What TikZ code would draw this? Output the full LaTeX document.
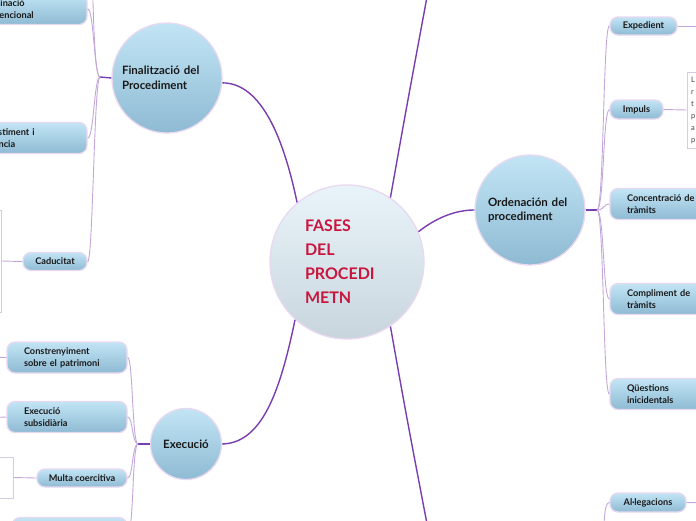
\documentclass[tikz,border=0pt]{standalone}
\usepackage{fontspec}
\setmainfont{Lato}
\definecolor{mainline}{HTML}{7A3DB0}
\definecolor{subline}{HTML}{C3A6DA}
\definecolor{boxtop}{HTML}{C2E5F5}
\definecolor{boxbot}{HTML}{8EBAD3}
\definecolor{boxedge}{HTML}{E8D8F0}
\definecolor{roottop}{HTML}{E9F4FA}
\definecolor{rootbot}{HTML}{C9D5DD}
\definecolor{roottext}{HTML}{C8163E}
\definecolor{notedge}{HTML}{D6CCE0}
\tikzset{
  mainl/.style={draw=mainline, line width=1.4pt},
  subl/.style={draw=subline, line width=0.9pt},
  rootc/.style={circle, draw=boxedge, line width=1.3pt, top color=roottop, bottom color=rootbot, inner sep=0pt,
    text=roottext, font=\fontsize{16}{24}\selectfont\bfseries, align=left},
  topic/.style={circle, draw=boxedge, line width=1.3pt, top color=boxtop, bottom color=boxbot, inner sep=0pt,
    text=black!90, font=\fontsize{11.5}{14.5}\selectfont\bfseries, align=left},
  leaf/.style={rectangle, rounded corners=8pt, draw=boxedge, line width=1.3pt, top color=boxtop, bottom color=boxbot,
    text=black!90, font=\fontsize{9.2}{12}\selectfont\bfseries, inner ysep=0pt},
  leafl/.style={leaf, align=left, inner xsep=17pt, minimum height=31pt},
  leafc/.style={leaf, align=center, inner xsep=0pt, minimum height=19pt},
  notebox/.style={rectangle, draw=notedge, line width=0.9pt, fill=white, inner sep=0pt},
}
\begin{document}
\begin{tikzpicture}[x=1pt,y=-1pt]
\useasboundingbox (0,0) rectangle (696,520);

% central and main topics
\node[rootc, minimum size=154pt, text width=84pt] (root) at (347,262) {FASES\\DEL\\PROCEDI\\METN};
\node[topic, minimum size=110pt, text width=90pt] (fin) at (167,78) {Finalització del\\Procediment};
\node[topic, minimum size=110pt, text width=84pt] (ord) at (530,210) {Ordenación del\\procediment};
\node[topic, minimum size=71pt, text width=60pt, align=center] (exe) at (186,444) {Execució};

\coordinate (topend) at (432,-30);
\coordinate (botend) at (432,550);
\draw[mainl] (root.130) .. controls (284,140) and (262,83) .. (fin.-5);
\draw[mainl] (root.23) .. controls (436,218) and (455,210) .. (ord.west);
\draw[mainl] (root.-132) .. controls (280,392) and (262,443) .. (exe.east);
\draw[mainl] (root.56) .. controls (406,110) .. (topend);
\draw[mainl] (root.-56) .. controls (406,414) .. (botend);

% Finalitzacio children
\node[leafl, text width=94pt, inner xsep=13pt] (c1) at (27,9) {Terminació\\convencional};
\node[leafl, text width=94pt, inner xsep=13pt] (c2) at (27,138) {Desistiment i\\renúncia};
\node[leafc, minimum width=64pt, minimum height=18pt] (cad) at (55,261.5) {Caducitat};
\node[notebox, minimum width=81pt, minimum height=102pt] (cnote) at (-39.5,261) {};
\coordinate (fj) at (100,77);
\coordinate (fup) at (92,-40);
\draw[mainl] (fin.west) -- (fj);
\draw[subl] (fj) .. controls (94,77) and (94,9) .. (c1.east);
\draw[subl] (fj) .. controls (94,77) and (93,0) .. (fup);
\draw[subl] (fj) .. controls (94,77) and (94,138) .. (c2.east);
\draw[subl] (fj) .. controls (94,77) and (93,262) .. (cad.east);
\draw[subl] (cad.west) -- (cnote.east);

% Ordenacion children
\node[leafc, minimum width=67pt, minimum height=18pt] (exp) at (643.5,26) {Expedient};
\node[leafc, minimum width=53pt] (imp) at (636.5,109.5) {Impuls};
\node[notebox, minimum width=80pt, minimum height=76pt, text width=72pt, align=left, inner xsep=4pt,
  font=\fontsize{7.5}{12}\selectfont, text=black!75] (note) at (727,110) {L\\r\\t\\p\\a\\p};
\node[leafl, text width=86pt] (conc) at (670,204) {Concentració de\\tràmits};
\node[leafl, text width=86pt] (comp) at (670,299) {Compliment de\\tràmits};
\node[leafl, text width=86pt] (ques) at (670,394) {Qüestions\\inicidentals};
\node[leafc, minimum width=76pt] (all) at (648,502.5) {Al·legacions};
\coordinate (oj) at (597,210);
\coordinate (expr) at (712,26);
\coordinate (allr) at (712,503);
\coordinate (alj) at (603,560);
\draw[mainl] (ord.east) -- (oj);
\draw[subl] (oj) .. controls (604,210) and (603,26) .. (exp.west);
\draw[subl] (oj) .. controls (604,210) and (603,110) .. (imp.west);
\draw[subl] (oj) .. controls (604,210) and (604,204) .. (conc.west);
\draw[subl] (oj) .. controls (604,210) and (603,299) .. (comp.west);
\draw[subl] (oj) .. controls (604,210) and (603,394) .. (ques.west);
\draw[subl] (exp.east) -- (expr);
\draw[subl] (imp.east) -- (note.west);
\draw[subl] (alj) .. controls (604,520) and (604,503) .. (all.west);
\draw[subl] (all.east) -- (allr);

% Execucio children
\node[leafl, text width=86pt] (con) at (67,357.5) {Constrenyiment\\sobre el patrimoni};
\node[leafl, text width=86pt] (sub) at (67,417) {Execució\\subsidiària};
\node[leafc, minimum width=90pt, minimum height=18pt] (mul) at (82,478) {Multa coercitiva};
\node[leaf, minimum width=115pt, minimum height=31pt] (last) at (69.5,533) {};
\node[notebox, minimum width=73pt, minimum height=41pt] (mnote) at (-23.5,477.5) {};
\coordinate (ej) at (138,444);
\coordinate (conl) at (-20,357);
\coordinate (subl) at (-20,418);
\draw[mainl] (exe.west) -- (ej);
\draw[subl] (ej) .. controls (132,444) and (133,357) .. (con.east);
\draw[subl] (ej) .. controls (132,444) and (133,417) .. (sub.east);
\draw[subl] (ej) .. controls (132,444) and (133,478) .. (mul.east);
\draw[subl] (ej) .. controls (132,444) and (134,533) .. (last.east);
\draw[subl] (con.west) -- (conl);
\draw[subl] (sub.west) -- (subl);
\draw[subl] (mul.west) -- (mnote.east);
\end{tikzpicture}
\end{document}
